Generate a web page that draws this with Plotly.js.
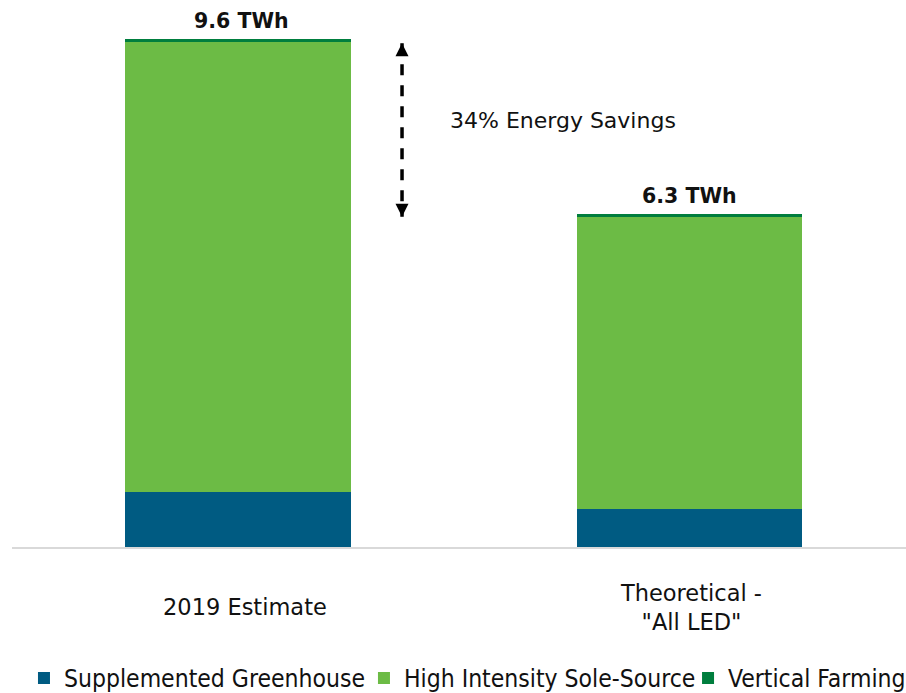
<!DOCTYPE html>
<html>
<head>
<meta charset="utf-8">
<script src="https://cdn.plot.ly/plotly-3.0.1.min.js"></script>
<style>
  html, body { margin: 0; padding: 0; background: #ffffff; }
  #chart { width: 906px; height: 693px; }
</style>
</head>
<body>
<div id="chart"></div>
<script>
// Horticultural lighting energy use (TWh) by application segment
const categories = ['2019 Estimate', 'Theoretical -<br>"All LED"'];
const seriesNames = ['Supplemented Greenhouse', 'High Intensity Sole-Source', 'Vertical Farming'];
const supplementedGreenhouse = [1.04, 0.72];
const highIntensitySoleSource = [8.50, 5.52];
const verticalFarming = [0.06, 0.06];
// vertical extent of the savings arrow (TWh)
const arrowSpan = [9.52, 6.24];

const colors = ['#005B82', '#6CBB45', '#007E3E'];
const textColor = '#111111';
const xPos = categories.map((_, i) => i);
const totals = xPos.map(i => supplementedGreenhouse[i] + highIntensitySoleSource[i] + verticalFarming[i]);
const savingsPct = Math.round((1 - totals[1] / totals[0]) * 100);

const seriesValues = [supplementedGreenhouse, highIntensitySoleSource, verticalFarming];
const legendIds = ['legend', 'legend2', 'legend3'];

const traces = seriesValues.map((vals, k) => ({
  type: 'bar',
  name: seriesNames[k],
  x: xPos,
  y: vals,
  width: 0.5,
  marker: { color: colors[k], line: { width: 0 } },
  legend: legendIds[k],
  hoverinfo: 'name+y'
}));

// dashed double-headed arrow between the two totals
traces.push({
  type: 'scatter',
  mode: 'lines+markers',
  x: [0.364, 0.364],
  y: arrowSpan,
  line: { color: '#000000', width: 3.5, dash: '11px,10px' },
  marker: { symbol: ['arrow-up', 'arrow-down'], size: 13, color: '#000000' },
  showlegend: false,
  hoverinfo: 'skip'
});

// small horizontal nudges for the text under/above the first column
const labelShift = [4, 0];
const categoryShift = [7, 2];

const annotations = [];
totals.forEach((t, i) => {
  annotations.push({
    x: i, y: t, xref: 'x', yref: 'y',
    text: t.toFixed(1) + ' TWh',
    showarrow: false, xanchor: 'center', yanchor: 'middle', yshift: 17.5, xshift: labelShift[i],
    font: { family: 'DejaVu Sans', size: 20.5, color: textColor, weight: 'bold' }
  });
  annotations.push({
    x: i, y: -0.1097, xref: 'x', yref: 'paper',
    text: categories[i],
    showarrow: false, xanchor: 'center', yanchor: 'middle', align: 'center', xshift: categoryShift[i],
    font: { family: 'DejaVu Sans', size: 22.5, color: textColor }
  });
});
annotations.push({
  x: 0.4657, y: 8.06, xref: 'x', yref: 'y',
  text: savingsPct + '% Energy Savings',
  showarrow: false, xanchor: 'left', yanchor: 'middle',
  font: { family: 'DejaVu Sans', size: 22, color: textColor }
});

const legendBase = {
  orientation: 'h', yanchor: 'middle', xanchor: 'left', y: -0.2395,
  bgcolor: 'rgba(0,0,0,0)', borderwidth: 0,
  font: { family: 'DejaVu Sans Condensed', size: 24.5, color: textColor }
};

const layout = {
  width: 906, height: 693,
  margin: { l: 12, r: 0, t: 0, b: 146, autoexpand: false },
  paper_bgcolor: '#ffffff', plot_bgcolor: '#ffffff',
  barmode: 'stack',
  showlegend: true,
  legend: Object.assign({}, legendBase, { x: 0.0134 }),
  legend2: Object.assign({}, legendBase, { x: 0.3937 }),
  legend3: Object.assign({}, legendBase, { x: 0.7562 }),
  xaxis: {
    range: [-0.4989, 1.4790],
    showticklabels: false, ticks: '', showgrid: false, zeroline: false,
    showline: true, linecolor: '#D9D9D9', linewidth: 2, fixedrange: true
  },
  yaxis: {
    range: [0, 10.336],
    visible: false, showgrid: false, zeroline: false, fixedrange: true
  },
  annotations: annotations
};

Plotly.newPlot('chart', traces, layout, { displayModeBar: false, staticPlot: true });
</script>
</body>
</html>
